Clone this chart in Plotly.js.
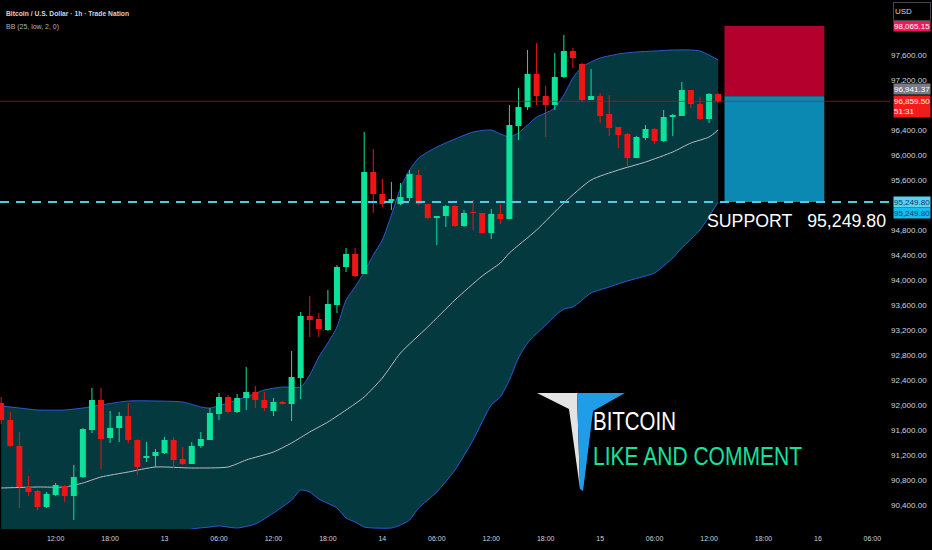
<!DOCTYPE html>
<html>
<head>
<meta charset="utf-8">
<script src="https://cdn.plot.ly/plotly-3.0.1.min.js"></script>
<style>
  html, body { margin: 0; padding: 0; background: #000; }
  #chart { width: 932px; height: 550px; }
</style>
</head>
<body>
<div id="chart"></div>
<script>
// hourly candles, first one at 12th 06:00
var openPrices = [92032,91760,91344,90688,90624,90368,90560,90704,90544,90848,
    91600,92080,91472,91632,91824,91440,91152,91184,91232,91440,
    91136,91056,91344,91440,91856,92128,91888,92112,92208,92080,
    91904,92048,92016,92432,93424,93376,93200,93600,94208,94416,
    94096,95728,95376,95264,95216,95312,95680,95216,94992,95024,
    95184,94864,95088,95072,94752,95056,94976,96464,96768,97296,
    96944,96800,97248,97664,97456,96880,96944,96656,96448,96336,
    95952,96272,96416,96224,96608,96624,97040,96816,96576,96976];
var highPrices = [92128,91888,91568,90864,90640,90608,90752,90720,91040,91632,
    92272,92272,91904,91888,92032,91456,91408,91296,91488,91488,
    91328,91408,91568,91952,92192,92160,92176,92608,92304,92208,
    92112,92064,92864,93488,93744,93472,93840,94240,94512,94512,
    96368,96096,95616,95568,95552,95760,95760,95216,95024,95200,
    95200,95120,95280,95072,95136,95216,96800,97072,97680,97792,
    97104,97632,97920,97712,97472,97376,96992,96960,96448,96352,
    96304,96480,96432,96720,96656,97168,97040,96928,96992,96992];
var lowPrices = [91696,91328,90352,90544,90320,90352,90544,90448,90160,90832,
    91552,90976,91392,91408,91392,90880,91088,91008,91216,90992,
    91040,91056,91312,91440,91760,91872,91872,91920,91952,91904,
    91824,92016,91744,92096,93088,93088,93184,93472,94128,94048,
    94096,95072,95168,95120,95200,95264,95200,94976,94560,94848,
    94848,94848,94800,94736,94656,94896,94976,96240,96720,96800,
    96288,96720,97232,97392,96848,96880,96512,96304,96112,95808,
    95952,96240,96176,96208,96304,96624,96752,96560,96512,96832];
var closePrices = [91760,91344,90688,90608,90368,90576,90720,90544,90848,91616,
    92080,91456,91632,91824,91440,91008,91184,91248,91440,91120,
    91056,91344,91456,91872,92128,91888,92112,92208,92080,91952,
    92048,92016,92448,93424,93360,93216,93616,94208,94416,94064,
    95728,95376,95216,95296,95328,95696,95216,94992,95024,95184,
    94864,95072,95072,94752,95056,94976,96480,96768,97296,96944,
    96800,97248,97664,97552,96880,96944,96624,96432,96320,95952,
    96288,96416,96224,96608,96640,97040,96816,96576,96976,96859.5];

// Bollinger band (hours after the first candle)
var upperHours = [0,2,4,7,9,11,14,17,20,22,23,25,27,29,31,33,34,35,36,37,38,39,40,41,42,43,44,45,46,47,48,50,52,54,55,56,57,58,59,60,61,62,63,64,65,66,68,70,72,74,76,77,78,79];
var upperBand = [91984,91952,91920,91920,91952,92000,92064,92064,92048,91968,91952,92032,92128,92240,92288,92288,92480,92768,92992,93248,93680,93888,94128,94400,94640,95040,95472,95760,95952,96048,96128,96256,96368,96400,96336,96288,96352,96480,96608,96672,96752,96960,97232,97408,97488,97552,97616,97648,97664,97680,97680,97664,97600,97520];
var midHours = [0,4,7,9,11,14,17,21,25,27,30,32,34,36,38,40,42,44,47,50,53,55,56,59,62,65,68,71,74,76,78,79];
var midBand = [90672,90688,90688,90752,90848,90928,91008,90992,91008,91120,91248,91392,91568,91728,91920,92128,92432,92832,93248,93680,94064,94272,94432,94800,95232,95600,95760,95888,96048,96192,96288,96400];
var lowerHours = [0,4,7,9,11,14,17,19,21,23,24,26,28,30,32,33,34,35,37,38,39,40,41,43,44,45,46,48,50,52,54,55,56,57,58,60,61,62,63,65,67,69,71,72,74,75,77,79];
var lowerBand = [89360,89456,89456,89552,89696,89792,89952,89936,90016,90048,90064,90032,90096,90272,90480,90640,90608,90496,90352,90192,90128,90048,90032,90032,90080,90160,90352,90608,90960,91440,92000,92128,92400,92752,92992,93280,93424,93536,93568,93792,93888,93984,94064,94112,94352,94512,94800,95248];

// axis labels
var tickHours = [0,6,12,18,24,30,36,42,48,54,60,66,72,78,84,90,96];
var tickLabels = ['06:00','12:00','18:00','13','06:00','12:00','18:00','14','06:00','12:00','18:00','15','06:00','12:00','18:00','16','06:00'];
var priceTicks = [97600,97200,96400,96000,95600,94800,94400,94000,93600,93200,92800,92400,92000,91600,91200,90800,90400];

// drawing levels
var stopPrice = 98065.15;
var entryPrice = 96941.37;
var supportPrice = 95249.80;
var lastPrice = 96859.50;
var boxStartHour = 79.7;
var boxEndHour = 90.7;

var titleText = 'Bitcoin / U.S. Dollar · 1h · Trade Nation';
var indicatorText = 'BB (25, low, 2, 0)';
var supportText = 'SUPPORT\u00a0\u00a0 95,249.80';
var logoTitle = 'BITCOIN';
var logoSubtitle = 'LIKE AND COMMENT';

var startMs = Date.UTC(2025, 0, 12, 6, 0, 0);
function hourToDate(h) {
    return new Date(startMs + h * 3600000).toISOString().replace('T', ' ').slice(0, 19);
}
var candleTimes = openPrices.map(function (v, i) { return hourToDate(i); });

// plot area is 890 x 529 px; helpers for paper-placed decorations
var PW = 890, PH = 529;
function px(x) { return x / PW; }
function py(y) { return 1 - y / PH; }
function paperPath(pts) {
    return 'M' + pts.map(function (p) { return px(p[0]).toFixed(4) + ',' + py(p[1]).toFixed(4); }).join(' L') + ' Z';
}

var sans = '"Liberation Sans", Arial, sans-serif';
var axisColor = '#d1d4dc';
var upColor = '#0be39b';
var downColor = '#f01414';

// candles as line segments so they sit above the band fill
var wick = { up: { x: [], y: [] }, down: { x: [], y: [] } };
var body = { up: { x: [], y: [] }, down: { x: [], y: [] } };
candleTimes.forEach(function (t, i) {
    var key = closePrices[i] >= openPrices[i] ? 'up' : 'down';
    wick[key].x.push(t, t, null);
    wick[key].y.push(lowPrices[i], highPrices[i], null);
    body[key].x.push(t, t, null);
    body[key].y.push(openPrices[i], closePrices[i], null);
});
function segTrace(seg, color, width) {
    return { x: seg.x, y: seg.y, type: 'scatter', mode: 'lines', connectgaps: false,
             line: { color: color, width: width }, hoverinfo: 'skip' };
}

var lowerTrace = {
    x: lowerHours.map(hourToDate), y: lowerBand, type: 'scatter', mode: 'lines',
    line: { color: '#2a5bd6', width: 1, shape: 'spline', smoothing: 0.6 }, hoverinfo: 'skip'
};
var upperTrace = {
    x: upperHours.map(hourToDate), y: upperBand, type: 'scatter', mode: 'lines',
    line: { color: '#2a5bd6', width: 1, shape: 'spline', smoothing: 0.6 },
    fill: 'tonexty', fillcolor: 'rgb(4,57,63)', hoverinfo: 'skip'
};
var midTrace = {
    x: midHours.map(hourToDate), y: midBand, type: 'scatter', mode: 'lines',
    line: { color: '#b9bcc4', width: 1, shape: 'spline', smoothing: 0.6 }, hoverinfo: 'skip'
};

function priceLabel(text, price, bg, fg, shift, h) {
    return {
        xref: 'paper', yref: 'y', x: 1, y: price, xanchor: 'left', yanchor: 'middle',
        xshift: 3, yshift: shift || 0, text: text, showarrow: false, align: 'left',
        width: 36, height: h || 10, bgcolor: bg, borderpad: 0,
        font: { family: sans, size: 8, color: fg }
    };
}
function paperText(text, x, y, size, color, weight) {
    return { xref: 'paper', yref: 'paper', x: px(x), y: py(y), xanchor: 'left', yanchor: 'middle',
             showarrow: false, align: 'left', text: text,
             font: { family: sans, size: size, color: color, weight: weight || 'normal' } };
}

var annotations = [
    paperText(titleText, 4, 13, 8, axisColor, 'bold'),
    paperText(indicatorText, 4, 26, 8, '#b2b5be'),
    paperText(supportText, 705, 221, 18, '#ffffff'),
    paperText(logoTitle, 591, 421, 25, '#ffffff'),
    paperText(logoSubtitle, 591, 456, 25, '#14e39c'),
    priceLabel('98,065.15', stopPrice, '#f0185a', '#ffffff', 0),
    priceLabel('96,941.37', entryPrice, '#787b86', '#ffffff', 7),
    priceLabel('96,859.50<br>51:31', lastPrice, '#f21c1c', '#ffffff', -5, 21),
    priceLabel('95,249.80', supportPrice, '#56d3ef', '#16365f', 0),
    priceLabel('95,249.80', supportPrice, '#12bdf0', '#16365f', -11),
    { xref: 'paper', yref: 'paper', x: 1, y: py(12), xanchor: 'left', yanchor: 'middle', xshift: 3,
      showarrow: false, text: 'USD', width: 34, height: 15, align: 'left', bgcolor: '#000000',
      bordercolor: '#434651', borderwidth: 1, borderpad: 1, font: { family: sans, size: 8, color: axisColor } }
];

// widths the texts take in the reference (its font is a narrow one)
var squeeze = {};
squeeze[titleText] = 123;
squeeze[indicatorText] = 53;
squeeze[supportText] = 179;
squeeze[logoTitle] = 83;
squeeze[logoSubtitle] = 209;

var shapes = [
    { type: 'rect', xref: 'x', yref: 'y', x0: hourToDate(boxStartHour), x1: hourToDate(boxEndHour),
      y0: entryPrice, y1: stopPrice, fillcolor: '#b3002d', line: { width: 0 } },
    { type: 'rect', xref: 'x', yref: 'y', x0: hourToDate(boxStartHour), x1: hourToDate(boxEndHour),
      y0: supportPrice, y1: entryPrice, fillcolor: '#0b89b2', line: { width: 0 } },
    { type: 'line', xref: 'paper', yref: 'y', x0: 0, x1: 1, y0: lastPrice, y1: lastPrice,
      line: { color: 'rgba(190,20,30,0.7)', width: 1 } },
    { type: 'line', xref: 'paper', yref: 'y', x0: 0, x1: 1, y0: supportPrice, y1: supportPrice,
      line: { color: '#4fcbe8', width: 2, dash: '9px,7px' } },
    // logo: white and blue halves of a "T"
    { type: 'path', xref: 'paper', yref: 'paper', line: { width: 0 }, fillcolor: '#e4e4e4',
      path: paperPath([[537, 393], [577, 393], [580, 489], [569, 409]]) },
    { type: 'path', xref: 'paper', yref: 'paper', line: { width: 0 }, fillcolor: '#1f9de6',
      path: paperPath([[577, 393], [625, 393], [593, 411], [583, 491], [580, 489]]) }
];

var layout = {
    width: 932, height: 550,
    margin: { l: 0, r: 932 - PW, t: 0, b: 550 - PH },
    paper_bgcolor: '#000000', plot_bgcolor: '#000000',
    showlegend: false,
    xaxis: {
        type: 'date', range: [hourToDate(-0.132), hourToDate(97.94)],
        tickvals: tickHours.map(hourToDate), ticktext: tickLabels,
        tickfont: { family: sans, size: 7, color: axisColor }, ticklabelstandoff: 4,
        showgrid: false, zeroline: false, showline: false, ticks: '', fixedrange: true
    },
    yaxis: {
        side: 'right', range: [90016, 98480],
        tickvals: priceTicks, tickformat: ',.2f',
        tickfont: { family: sans, size: 8, color: axisColor },
        showgrid: false, zeroline: false, showline: false, ticks: '', fixedrange: true
    },
    shapes: shapes,
    annotations: annotations
};

var traces = [
    lowerTrace, upperTrace, midTrace,
    segTrace(wick.up, upColor, 1), segTrace(wick.down, downColor, 1),
    segTrace(body.up, upColor, 6), segTrace(body.down, downColor, 6)
];

Plotly.newPlot('chart', traces, layout, { displayModeBar: false, staticPlot: true }).then(function (gd) {
    gd.querySelectorAll('text.annotation-text').forEach(function (el) {
        var w = squeeze[el.textContent];
        if (w) {
            el.setAttribute('textLength', w);
            el.setAttribute('lengthAdjust', 'spacingAndGlyphs');
        }
    });
});
</script>
</body>
</html>
